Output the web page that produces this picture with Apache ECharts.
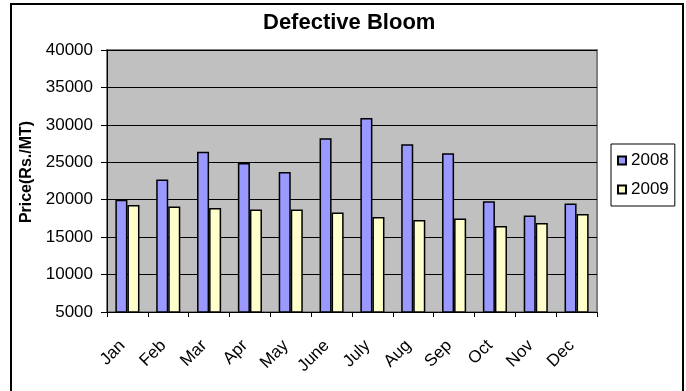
<!DOCTYPE html>
<html>
<head>
<meta charset="utf-8">
<title>Defective Bloom</title>
<script src="https://cdn.jsdelivr.net/npm/echarts@6/dist/echarts.min.js"></script>
<style>
  html, body { margin: 0; padding: 0; background: #ffffff; }
  #chart { width: 686px; height: 391px; }
</style>
</head>
<body>
<div id="chart"></div>
<script>
// Monthly prices of defective bloom, Rs. per metric tonne
const months = ['Jan', 'Feb', 'Mar', 'Apr', 'May', 'June', 'July', 'Aug', 'Sep', 'Oct', 'Nov', 'Dec'];
const price2008 = [20000, 22700, 26400, 24900, 23700, 28200, 30900, 27400, 26200, 19800, 17900, 19500];
const price2009 = [19300, 19100, 18900, 18700, 18700, 18300, 17700, 17300, 17500, 16500, 16900, 18100];
const yTicks = { min: 5000, max: 40000, step: 5000 };

const FONT = '"Liberation Sans", Arial, sans-serif';

const chart = echarts.init(document.getElementById('chart'), null, { renderer: 'canvas' });

chart.setOption({
  animation: false,
  backgroundColor: '#ffffff',
  textStyle: { fontFamily: FONT, color: '#000' },
  title: {
    text: 'Defective Bloom',
    left: 263,
    top: 12,
    padding: 0,
    textStyle: { fontFamily: FONT, fontSize: 22, fontWeight: 'bold', color: '#000' }
  },
  legend: {
    orient: 'vertical',
    left: 611,
    top: 144,
    padding: [8, 6, 8, 6],
    itemGap: 12,
    itemWidth: 8,
    itemHeight: 8,
    itemTextGap: 8,
    backgroundColor: '#ffffff',
    borderColor: '#000',
    borderWidth: 1,
    borderRadius: 0,
    icon: 'rect',
    textStyle: { fontFamily: FONT, fontSize: 17, color: '#000', lineHeight: 17 },
    data: ['2008', '2009']
  },
  grid: {
    left: 107,
    right: 89,
    top: 50,
    bottom: 79,
    show: true,
    backgroundColor: '#C0C0C0',
    borderColor: '#808080',
    borderWidth: 2,
    containLabel: false
  },
  xAxis: {
    type: 'category',
    data: months,
    boundaryGap: true,
    axisLine: { show: true, lineStyle: { color: '#000', width: 1 } },
    axisTick: { show: true, length: 5, inside: false, alignWithLabel: false, lineStyle: { color: '#000', width: 1 } },
    axisLabel: { rotate: 45, margin: 26, padding: [0, 7, 0, 0], fontFamily: FONT, fontSize: 17, color: '#000', interval: 0 },
    splitLine: { show: false }
  },
  yAxis: {
    type: 'value',
    min: yTicks.min,
    max: yTicks.max,
    interval: yTicks.step,
    name: 'Price(Rs./MT)',
    nameLocation: 'middle',
    nameRotate: 90,
    nameGap: 71,
    nameTextStyle: { fontFamily: FONT, fontSize: 16, fontWeight: 'bold', color: '#000', padding: [0, 0, 0, 18] },
    axisLine: { show: true, lineStyle: { color: '#000', width: 1 } },
    axisTick: { show: true, length: 6, inside: false, lineStyle: { color: '#000', width: 1 } },
    axisLabel: { margin: 14, fontFamily: FONT, fontSize: 17, color: '#000', formatter: (v) => String(v) },
    splitLine: { show: true, lineStyle: { color: '#000', width: 1 } }
  },
  series: [
    {
      name: '2008',
      type: 'bar',
      data: price2008,
      barGap: '0%',
      barCategoryGap: '41%',
      itemStyle: { color: '#9999FF', borderColor: '#000', borderWidth: 1.5 }
    },
    {
      name: '2009',
      type: 'bar',
      data: price2009,
      barGap: '0%',
      barCategoryGap: '41%',
      itemStyle: { color: '#FFFFCC', borderColor: '#000', borderWidth: 1.5 }
    }
  ],
  graphic: [
    {
      type: 'rect',
      silent: true,
      z: -1,
      shape: { x: 11, y: 4, width: 672, height: 420 },
      style: { fill: 'none', stroke: '#000', lineWidth: 2 }
    }
  ]
});
</script>
</body>
</html>
